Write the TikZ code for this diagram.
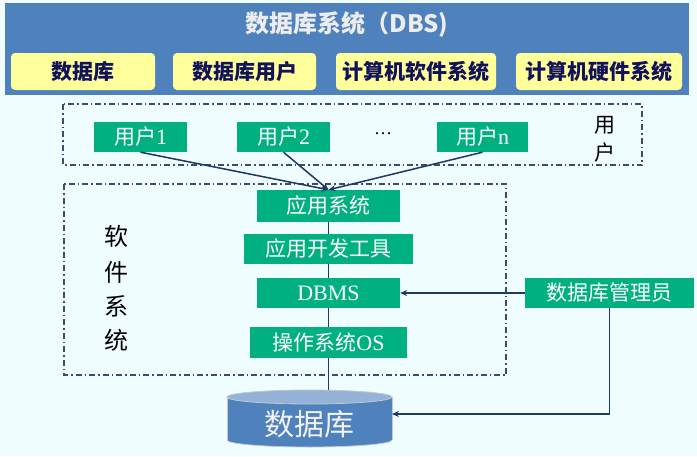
\documentclass[tikz,border=0pt]{standalone}
\usepackage{fontspec}
\setmainfont{Liberation Serif}
\newfontfamily\cjk{Noto Sans CJK SC}
\usetikzlibrary{arrows.meta}
\definecolor{bgc}{HTML}{F0FDFF}
\definecolor{bandc}{HTML}{4F81BD}
\definecolor{yelc}{HTML}{FFFF9C}
\definecolor{grnc}{HTML}{00B080}
\definecolor{navyc}{HTML}{1F3864}
\definecolor{dashc}{HTML}{3B4E68}
\definecolor{ytext}{HTML}{12125A}
\definecolor{cyltop}{HTML}{95B3D7}
\definecolor{cylline}{HTML}{C0C8D4}
\begin{document}
\begin{tikzpicture}[x=1pt,y=-1pt,
  ybox/.style={fill=yelc, rounded corners=4pt, inner sep=0pt, minimum height=37pt,
    text=ytext, font=\cjk\bfseries\fontsize{21}{24}\selectfont},
  gbox/.style={fill=grnc, inner sep=0pt, text=white,
    font=\cjk\fontsize{21}{24}\selectfont},
  dashbox/.style={draw=dashc, line width=1.2pt, dash pattern=on 6pt off 3pt on 1.5pt off 3pt},
  conn/.style={draw=navyc, line width=1.5pt},
  arr/.style={conn, -{Stealth[length=7pt,width=6pt]}},
  lbl/.style={inner sep=0pt, text=black, font=\cjk\fontsize{21}{24}\selectfont}]
\useasboundingbox (0,0) rectangle (697,456);
\fill[bgc] (0,0) rectangle (697,456);
% top band
\fill[bandc] (5,3) rectangle (689,95);
\node[inner sep=0pt, text=white!93!black, font=\cjk\bfseries\fontsize{24}{28}\selectfont] (title) at (347,25) {数据库系统（DBS)};
\node[ybox, minimum width=144pt] (y1) at (83,71.5) {数据库};
\node[ybox, minimum width=143pt] (y2) at (244.5,71.5) {数据库用户};
\node[ybox, minimum width=160pt] (y3) at (416,71.5) {计算机软件系统};
\node[ybox, minimum width=166pt] (y4) at (599,71.5) {计算机硬件系统};
% users box
\draw[dashbox] (63,104) rectangle (642,165);
\node[gbox, minimum width=93pt, minimum height=30pt] (u1) at (140.5,137) {用户{\rmfamily\fontsize{22}{24}\selectfont 1}};
\node[gbox, minimum width=93pt, minimum height=30pt] (u2) at (283.5,137) {用户{\rmfamily\fontsize{22}{24}\selectfont 2}};
\node[gbox, minimum width=91pt, minimum height=30pt] (un) at (482.5,137) {用户{\rmfamily\fontsize{22}{24}\selectfont n}};
\node[inner sep=0pt, font=\rmfamily\fontsize{18}{20}\selectfont] (dots) at (383,134) {…};
\node[lbl] (uu1) at (605,125) {用};
\node[lbl] (uu2) at (605,153) {户};
% software box
\draw[dashbox] (64,184) rectangle (506,375);
\node[lbl, font=\cjk\fontsize{24}{28}\selectfont] (s1) at (116,236) {软};
\node[lbl, font=\cjk\fontsize{24}{28}\selectfont] (s2) at (116,272) {件};
\node[lbl, font=\cjk\fontsize{24}{28}\selectfont] (s3) at (116,306) {系};
\node[lbl, font=\cjk\fontsize{24}{28}\selectfont] (s4) at (116,340) {统};
\node[gbox, minimum width=143pt, minimum height=32pt] (app) at (328.5,206) {应用系统};
\node[gbox, minimum width=169pt, minimum height=30pt] (tool) at (328.5,249) {应用开发工具};
\node[gbox, minimum width=143pt, minimum height=30pt] (dbms) at (328.5,293) {{\rmfamily\fontsize{22}{24}\selectfont DBMS}};
\node[gbox, minimum width=157pt, minimum height=31pt] (os) at (328.5,342.5) {操作系统{\rmfamily\fontsize{22}{24}\selectfont OS}};
\node[gbox, minimum width=169pt, minimum height=30pt] (mgr) at (609.5,293) {数据库管理员};
% cylinder
\filldraw[fill=bandc, draw=cylline, line width=0.8pt] (309.5,440) ellipse [x radius=82.5, y radius=7];
\fill[bandc] (227,397) rectangle (392,440);
\draw[cylline, line width=0.8pt] (227,397) -- (227,440) (392,397) -- (392,440);
\filldraw[fill=cyltop, draw=cylline, line width=0.8pt] (309.5,397) ellipse [x radius=82.5, y radius=7];
\node[inner sep=0pt, minimum width=165pt, minimum height=57pt, text=white!95!black,
  font=\cjk\fontsize{30}{34}\selectfont] (db) at (309.5,418.5) {\smash{\raisebox{-17pt}{数据库}}};
\coordinate (dbin) at (392,414);
% connectors
\draw[arr] (u1.south) -- (app.north);
\draw[arr] (u2.south) -- (app.north);
\draw[arr] (un.south) -- (app.north);
\draw[conn] (app.south) -- (tool.north);
\draw[conn] (tool.south) -- (dbms.north);
\draw[conn] (dbms.south) -- (os.north);
\draw[conn] (os.south) -- (os.south |- db.north);
\draw[arr] (mgr.west) -- (dbms.east);
\draw[arr] (mgr.south) |- (dbin);
\end{tikzpicture}
\end{document}
